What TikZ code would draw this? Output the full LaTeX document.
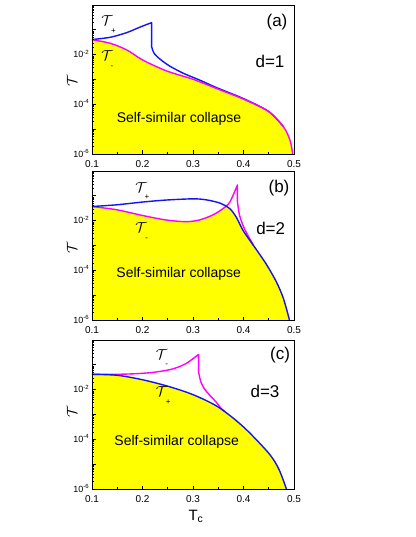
\documentclass[tikz,border=0pt]{standalone}
\usepackage{fontspec}
\setmainfont{Liberation Sans}
\definecolor{cblue}{RGB}{20,20,240}
\definecolor{cmag}{RGB}{255,0,255}
\definecolor{cyel}{RGB}{255,255,0}
\newcommand\panelaxes[1]{%
  \draw[frame] (0.1,-6) rectangle (0.5,0);
  \foreach \d in {-6,...,-1}{%
    \draw[frame] (0.1,\d) -- ++(3.5pt,0);
    \foreach \m in {0.301,0.477,0.602,0.699,0.778,0.845,0.903,0.954}
      \draw[minortick] (0.1,\d+\m) -- ++(2pt,0);
  }
  \foreach \x in {0.2,0.3,0.4} \draw[frame] (\x,-6) -- ++(0,3.5pt);
  \foreach \x in {0.15,0.25,0.35,0.45} \draw[minortick] (\x,-6) -- ++(0,2pt);
  \foreach \x/\n in {0.1/1,0.2/2,0.3/3,0.4/4,0.5/5} \node[xlab] (#1x\n) at (\x,-6) {\x};
  \foreach \e/\n in {-2/2,-4/4,-6/6} \node[ylab] (#1y\n) at (0.1,\e) {10\textsuperscript{\e}};
}
\begin{document}
\begin{tikzpicture}[x=1pt,y=-1pt,
  frame/.style={line width=0.9pt,black},
  minortick/.style={line width=0.6pt,black},
  xlab/.style={anchor=north,inner sep=0pt,yshift=-6.4pt,font=\fontsize{10}{10}\selectfont},
  ylab/.style={anchor=base east,inner sep=0pt,xshift=-2.5pt,yshift=-3.3pt,font=\fontsize{9}{9}\selectfont},
  bcurve/.style={cblue,line width=1.4pt,line join=round},
  mcurve/.style={cmag,line width=1.4pt,line join=round},
  calT/.style={inner sep=0pt,font=\fontsize{14}{14}\selectfont},
  subl/.style={inner sep=0pt,font=\fontsize{8}{8}\selectfont},
  tag/.style={inner sep=0pt,font=\fontsize{17}{17}\selectfont},
  region/.style={inner sep=0pt,font=\fontsize{14}{14}\selectfont}]
\useasboundingbox (0,0) rectangle (415,537);

% ---------------- panel (a)
\begin{scope}[shift={(92,154)},x=505pt,y=24.83pt,shift={(-0.1,6)}]
  \fill[cyel] (0.1,-6) -- plot[smooth] coordinates {(0.1,-1.40) (0.136,-1.54) (0.169,-1.81) (0.2,-2.21) (0.247,-2.65) (0.3,-2.99) (0.35,-3.39) (0.4,-3.79) (0.45,-4.29) (0.479,-4.90) (0.492,-5.44) (0.4975,-6)} -- cycle;
  \draw[bcurve] plot[smooth] coordinates {(0.1,-1.39) (0.136,-1.30) (0.169,-1.11) (0.195,-0.89) (0.218,-0.71)} -- plot[smooth] coordinates {(0.218,-1.67) (0.2228,-1.94) (0.2347,-2.18) (0.254,-2.46) (0.281,-2.75) (0.314,-3.03) (0.347,-3.33) (0.4,-3.77) (0.45,-4.29) (0.479,-4.90)};
  \draw[mcurve] plot[smooth] coordinates {(0.1,-1.40) (0.136,-1.54) (0.169,-1.81) (0.2,-2.21) (0.247,-2.65) (0.3,-2.99) (0.35,-3.39) (0.4,-3.79) (0.45,-4.29) (0.479,-4.90) (0.492,-5.44) (0.4975,-6)};
  \panelaxes{a}
\end{scope}
\node[calT] (aTp) at (107,21) {$\mathcal{T}$};
\node[subl] (aTps) at (113.5,31) {+};
\node[calT] (aTm) at (107,56) {$\mathcal{T}$};
\node[subl] (aTms) at (112,67) {-};
\node[tag] (atag) at (277,22) {(a)};
\node[tag] (ad) at (270,61) {d=1};
\node[region] (areg) at (179,119) {Self-similar collapse};
\node[calT,rotate=90] (ayl) at (72,81) {$\mathcal{T}$};

% ---------------- panel (b)
\begin{scope}[shift={(92,320)},x=505pt,y=24.83pt,shift={(-0.1,6)}]
  \begin{scope}
    \clip (0.1,-6) -- plot[smooth] coordinates {(0.1,-1.43) (0.149,-1.36) (0.2,-1.25) (0.246,-1.17) (0.3,-1.12) (0.326,-1.16) (0.353,-1.29) (0.373,-1.52) (0.386,-1.87) (0.4,-2.42) (0.426,-3.18) (0.446,-3.78) (0.465,-4.46) (0.479,-5.13) (0.491,-6)} -- cycle;
    \fill[cyel] (0.1,-6) -- plot[smooth] coordinates {(0.1,-1.43) (0.149,-1.56) (0.2,-1.79) (0.246,-1.97) (0.286,-2.04) (0.313,-1.97) (0.339,-1.77) (0.359,-1.52) (0.373,-1.25) (0.388,-0.56)} -- plot[smooth] coordinates {(0.388,-1.23) (0.392,-1.77) (0.4,-2.24) (0.41,-2.64) (0.42,-3.0)} -- (0.5,-3) -- (0.5,-6) -- cycle;
  \end{scope}
  \draw[mcurve] plot[smooth] coordinates {(0.1,-1.43) (0.149,-1.56) (0.2,-1.79) (0.246,-1.97) (0.286,-2.04) (0.313,-1.97) (0.339,-1.77) (0.359,-1.52) (0.373,-1.25) (0.388,-0.56)} -- plot[smooth] coordinates {(0.388,-1.23) (0.392,-1.77) (0.4,-2.24) (0.41,-2.64) (0.42,-3.0)};
  \draw[bcurve] plot[smooth] coordinates {(0.1,-1.43) (0.149,-1.36) (0.2,-1.25) (0.246,-1.17) (0.3,-1.12) (0.326,-1.16) (0.353,-1.29) (0.373,-1.52) (0.386,-1.87) (0.4,-2.42) (0.426,-3.18) (0.446,-3.78) (0.465,-4.46) (0.479,-5.13) (0.491,-6)};
  \panelaxes{b}
\end{scope}
\node[calT] (bTp) at (141,188) {$\mathcal{T}$};
\node[subl] (bTps) at (147,197.5) {+};
\node[calT] (bTm) at (141,228) {$\mathcal{T}$};
\node[subl] (bTms) at (146.7,239) {-};
\node[tag] (btag) at (279,188) {(b)};
\node[tag] (bd) at (270.7,228) {d=2};
\node[region] (breg) at (178.7,274.3) {Self-similar collapse};
\node[calT,rotate=90] (byl) at (72,248) {$\mathcal{T}$};

% ---------------- panel (c)
\begin{scope}[shift={(92,489)},x=505pt,y=24.83pt,shift={(-0.1,6)}]
  \fill[cyel] (0.1,-6) -- plot[smooth] coordinates {(0.1,-1.38) (0.15,-1.42) (0.2,-1.60) (0.25,-1.86) (0.3,-2.2) (0.35,-2.7) (0.4,-3.5) (0.45,-4.56) (0.47,-5.2) (0.485,-6)} -- cycle;
  \draw[mcurve] plot[smooth] coordinates {(0.1,-1.38) (0.15,-1.38) (0.193,-1.35) (0.226,-1.29) (0.259,-1.17) (0.286,-0.95) (0.311,-0.58)} -- plot[smooth] coordinates {(0.311,-1.28) (0.315,-1.65) (0.322,-1.95) (0.333,-2.22) (0.345,-2.48) (0.356,-2.76) (0.362,-2.87)};
  \draw[bcurve] plot[smooth] coordinates {(0.1,-1.38) (0.15,-1.42) (0.2,-1.60) (0.25,-1.86) (0.3,-2.2) (0.35,-2.7) (0.4,-3.5) (0.45,-4.56) (0.47,-5.2) (0.485,-6)};
  \panelaxes{c}
\end{scope}
\node[calT] (cTm) at (161.7,355) {$\mathcal{T}$};
\node[subl] (cTms) at (166.7,365.7) {-};
\node[calT] (cTp) at (161.7,391.7) {$\mathcal{T}$};
\node[subl] (cTps) at (168.3,402.3) {+};
\node[tag] (ctag) at (280,355) {(c)};
\node[tag] (cd) at (265,391.7) {d=3};
\node[region] (creg) at (176.7,441.7) {Self-similar collapse};
\node[calT,rotate=90] (cyl) at (72,412) {$\mathcal{T}$};
\node[inner sep=0pt,font=\fontsize{15}{15}\selectfont] (tc) at (196,516) {T\textsubscript{c}};
\end{tikzpicture}
\end{document}
